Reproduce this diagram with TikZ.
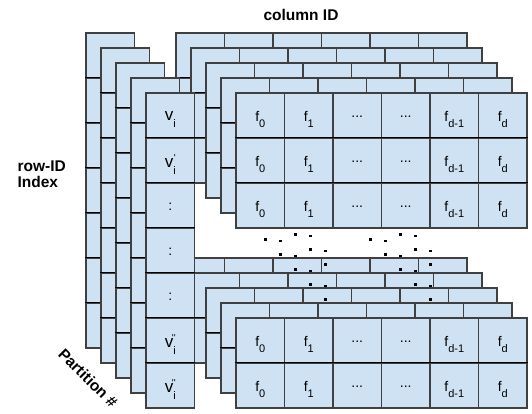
\documentclass[tikz,border=0pt]{standalone}
\usepackage{fontspec}
\setmainfont{Liberation Sans}
\usepackage{xcolor}
\definecolor{cellblue}{HTML}{CFE2F3}

\newcommand{\lowsub}[1]{\raisebox{-6.5pt}{\fontsize{11}{11}\selectfont #1}}
\newcommand{\lowsubp}[2]{\raisebox{-6.5pt}{\fontsize{11}{11}\selectfont #1}\llap{\raisebox{6pt}{\fontsize{10}{10}\selectfont #2}}}
\newcommand{\vbig}{{\fontsize{17}{18}\selectfont v}}
\newcommand{\threedots}{...}

\begin{document}
\begin{tikzpicture}[
    x=1pt, y=-1pt,
    cell/.style={rectangle, draw=black!75, line width=1.1pt, fill=cellblue, minimum width=48.5pt, minimum height=45pt, inner sep=0pt},
    hline/.style={draw=black, line width=1.6pt},
    txt/.style={inner sep=0pt, font=\fontsize{14}{16}\selectfont, yshift=-4pt},
    dtxt/.style={inner sep=0pt, font=\fontsize{14}{16}\selectfont, yshift=-1.5pt},
    lbl/.style={font=\fontsize{15.5}{16}\selectfont\bfseries, align=left}
]
    \useasboundingbox (0,0) rectangle (532,413);

    % Partitions, back to front
    \foreach \k in {0,...,4}{
        \pgfmathsetmacro{\sh}{15*(\k-4)}
        % row-ID column
        \foreach \r in {0,...,6}
            \node[cell] (v-\k-\r) at (\sh+170.25, \sh+115.5+45*\r) {};
        \foreach \r in {1,...,6}
            \draw[hline] (v-\k-\r.north west) -- (v-\k-\r.north east);
        % feature rows
        \foreach \r in {0,1,2,5,6}
            \foreach \c in {0,...,5}
                \node[cell] (f-\k-\r-\c) at (\sh+260.25+48.5*\c, \sh+115.5+45*\r) {};
        \foreach \r in {1,2,6}
            \draw[hline] (f-\k-\r-0.north west) -- (f-\k-\r-5.north east);
    }

    % Front partition texts
    \node[txt] (t-v0) at (v-4-0) {\vbig\lowsub{i}};
    \node[txt] (t-v1) at (v-4-1) {\vbig\lowsubp{i}{\textquotesingle}};
    \foreach \r in {2,3,4}
        \node[dtxt] (t-v\r) at (v-4-\r) {:};
    \node[txt] (t-v5) at (v-4-5) {\vbig\lowsubp{i}{\textquotesingle\textquotesingle}};
    \node[txt] (t-v6) at (v-4-6) {\vbig\lowsubp{i}{\textquotesingle\textquotesingle}};
    \foreach \r in {0,1,2,5,6}{
        \foreach \c/\t in {0/0, 1/1, 4/d-1, 5/d}
            \node[txt] (t-\r-\c) at (f-4-\r-\c) {f\lowsub{\t}};
        \foreach \c in {2,3}
            \node[dtxt] (t-\r-\c) at (f-4-\r-\c) {\threedots};
    }

    % Skipped rows
    \foreach \gx in {0,105}
        \foreach \bx/\by/\n in {265.7/239.3/4, 280.7/241/3, 295.7/234.3/2, 310.7/236/1}
            \foreach \j in {0,...,\n}
                \fill (\gx+\bx+15*\j-1.3, \by+15*\j-1.3) rectangle ++(2.6,2.6);

    % Labels
    \node[lbl] (colid) at (301,15) {column ID};
    \node[lbl, anchor=west] (rowid) at (14,174) {row-ID\\Index};
    \node[lbl, rotate=-45] (part) at (88,378) {Partition \#};
\end{tikzpicture}
\end{document}
